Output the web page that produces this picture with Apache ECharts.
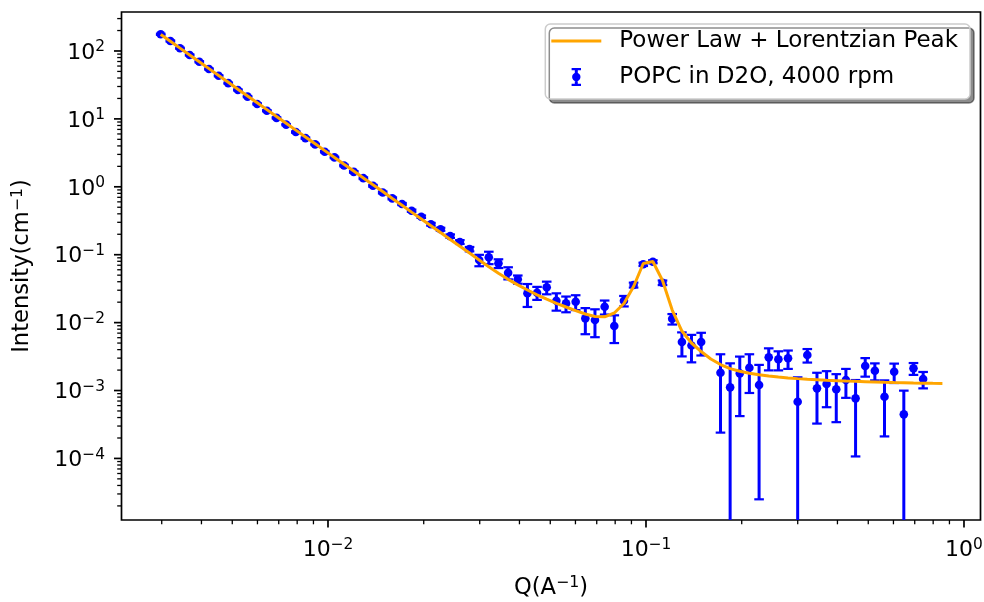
<!DOCTYPE html>
<html><head><meta charset="utf-8">
<script src="https://cdn.jsdelivr.net/npm/echarts@6/dist/echarts.min.js"></script>
<style>html,body{margin:0;padding:0;background:#fff}#chart{width:984px;height:602px}</style>
</head><body><div id="chart"></div>
<script>
// ---- data ----
const qValues = [
  0.002978, 0.003194, 0.003424, 0.003672, 0.003938, 0.004223, 0.004529, 0.004857, 0.005208, 0.005585,
  0.005989, 0.006423, 0.006888, 0.007386, 0.007921, 0.008494, 0.009110, 0.009768, 0.01048, 0.01123,
  0.01205, 0.01292, 0.01385, 0.01486, 0.01593, 0.01709, 0.01832, 0.01965, 0.02107, 0.02259,
  0.02423, 0.02598, 0.02787, 0.02988, 0.03204, 0.03436, 0.03685, 0.03952, 0.04238, 0.04544,
  0.04873, 0.05226, 0.05604, 0.06010, 0.06445, 0.06911, 0.07413, 0.07949, 0.08524, 0.09141,
  0.09804, 0.1051, 0.1127, 0.1209, 0.1297, 0.1390, 0.1491, 0.1599, 0.1715, 0.1839,
  0.1972, 0.2114, 0.2268, 0.2432, 0.2608, 0.2797, 0.2999, 0.3216, 0.3449, 0.3698,
  0.3966, 0.4253, 0.4561, 0.4891, 0.5245, 0.5624, 0.6032, 0.6468, 0.6937, 0.7439,
  0.7977, 0.8554
];
const intensity = [
  176.4, 140.3, 109.8, 87.4, 69.4, 54.3, 43.2, 33.6, 26.7, 21.3,
  16.6, 13.2, 10.35, 8.23, 6.40, 5.21, 4.21, 3.29, 2.71, 2.06,
  1.66, 1.34, 1.035, 0.825, 0.676, 0.558, 0.445, 0.363, 0.281, 0.237,
  0.188, 0.154, 0.121, 0.0836, 0.0916, 0.0746, 0.0543, 0.0434, 0.0270, 0.0276,
  0.0331, 0.0210, 0.0192, 0.0203, 0.01155, 0.0109, 0.01714, 0.0089, 0.0210, 0.0358,
  0.0722, 0.0789, 0.0387, 0.01137, 0.00518, 0.0046, 0.00518, null, 0.00183, 0.001114,
  0.00179, 0.00217, 0.001205, 0.00308, 0.00288, 0.00298, 0.000684, 0.00333, 0.001076, 0.001248,
  0.001042, 0.00143, 0.000767, 0.0023, 0.00196, 0.000811, 0.00189, 0.000446, 0.00212, 0.001476,
  null, null
];
const intensityErr = [
  3.5, 2.8, 2.2, 1.7, 1.4, 1.1, 0.86, 0.67, 0.53, 0.43,
  0.34, 0.27, 0.22, 0.18, 0.14, 0.12, 0.10, 0.08, 0.068, 0.055,
  0.046, 0.039, 0.032, 0.027, 0.023, 0.020, 0.017, 0.015, 0.013, 0.012,
  0.011, 0.010, 0.009, 0.016, 0.019, 0.011, 0.011, 0.006, 0.010, 0.006,
  0.007, 0.006, 0.005, 0.005, 0.0048, 0.0048, 0.004, 0.0039, 0.0037, 0.003,
  0.004, 0.004, 0.003, 0.002, 0.002, 0.002, 0.0019, null, 0.00159, 0.0014,
  0.00137, 0.00125, 0.00118, 0.0011, 0.0009, 0.0009, 0.00088, 0.00075, 0.00075, 0.00068,
  0.0007, 0.00065, 0.00066, 0.0007, 0.00055, 0.0006, 0.0006, 0.00055, 0.00042, 0.0004,
  null, null
];
const fitValues = [
  175.0, 138.8, 110.1, 87.4, 69.3, 54.95, 43.6, 34.6, 27.4, 21.8,
  17.26, 13.69, 10.86, 8.617, 6.835, 5.422, 4.301, 3.412, 2.706, 2.147,
  1.703, 1.351, 1.072, 0.850, 0.674, 0.535, 0.424, 0.3365, 0.2670, 0.2118,
  0.1680, 0.1333, 0.1057, 0.0838, 0.0664, 0.0534, 0.0434, 0.0360, 0.0302, 0.02567,
  0.02211, 0.01924, 0.01697, 0.01502, 0.01338, 0.01230, 0.01217, 0.01385, 0.01911, 0.0340,
  0.0742, 0.0794, 0.0417, 0.01533, 0.00752, 0.00501, 0.003753, 0.002910, 0.002415, 0.002101,
  0.001924, 0.001798, 0.001702, 0.001635, 0.001580, 0.001532, 0.001497, 0.001466, 0.001442, 0.001417,
  0.001398, 0.001379, 0.001365, 0.001352, 0.001338, 0.001324, 0.001311, 0.001302, 0.001293, 0.001285,
  0.001276, 0.001272
];
const xMajorTicks = [0.01, 0.1, 1];
const xMinorTicks = [0.003, 0.004, 0.005, 0.006, 0.007, 0.008, 0.009,
  0.02, 0.03, 0.04, 0.05, 0.06, 0.07, 0.08, 0.09,
  0.2, 0.3, 0.4, 0.5, 0.6, 0.7, 0.8, 0.9];
const yMajorTicks = [1e-4, 1e-3, 1e-2, 1e-1, 1, 10, 100];
const yMinorTicks = [2e-5, 3e-5, 4e-5, 5e-5, 6e-5, 7e-5, 8e-5, 9e-5,
  2e-4, 3e-4, 4e-4, 5e-4, 6e-4, 7e-4, 8e-4, 9e-4,
  2e-3, 3e-3, 4e-3, 5e-3, 6e-3, 7e-3, 8e-3, 9e-3,
  0.02, 0.03, 0.04, 0.05, 0.06, 0.07, 0.08, 0.09,
  0.2, 0.3, 0.4, 0.5, 0.6, 0.7, 0.8, 0.9,
  2, 3, 4, 5, 6, 7, 8, 9,
  20, 30, 40, 50, 60, 70, 80, 90,
  200, 300];
const X_MIN = 0.002242, X_MAX = 1.127;
const Y_MIN = 1.24e-5, Y_MAX = 375;
const FIT_NAME = 'Power Law + Lorentzian Peak';
const DATA_NAME = 'POPC in D2O, 4000 rpm';
const X_NAME = 'Q(A{s|\u22121})';
const Y_NAME = 'Intensity(cm{s|\u22121})';

// ---- styling ----
const FONT = 'DejaVu Sans';
const BLUE = '#0000ff', ORANGE = '#ffa500';
const FS = 22;
const FS_NAME = 22.6;
const FS_LEGEND = 23;
const richSup = {
  b: {fontFamily: FONT, fontSize: FS, lineHeight: 26, color: '#000'},
  s: {fontFamily: FONT, fontSize: 15.4, lineHeight: 13.4, verticalAlign: 'top', color: '#000'}
};
const richName = {
  s: {fontFamily: FONT, fontSize: 15.8, lineHeight: 13.4, verticalAlign: 'top', color: '#000'}
};
function powLabel(v) {
  const lg = Math.log10(v);
  const k = Math.round(lg);
  if (Math.abs(lg - k) > 1e-6) return '';
  return '{b|10}{s|' + (k < 0 ? '\u2212' + (-k) : String(k)) + '}';
}

const errData = [];
const markerData = [];
qValues.forEach((q, i) => {
  if (intensity[i] == null) return;
  errData.push([q, intensity[i], intensityErr[i]]);
  markerData.push([q, intensity[i]]);
});
const fitData = qValues.map((q, i) => [q, fitValues[i]]);

function renderErr(params, api) {
  const q = api.value(0), v = api.value(1), e = api.value(2);
  const cs = params.coordSys;
  const bottomEdge = cs.y + cs.height;
  const top = api.coord([q, v + e]);
  let yb, capLow = true;
  const low = v - e;
  if (low > 0) { yb = api.coord([q, low])[1]; } else { yb = bottomEdge; capLow = false; }
  if (yb > bottomEdge) { yb = bottomEdge; capLow = false; }
  const CAP = 4.8;
  const children = [
    {type: 'line', shape: {x1: top[0], y1: top[1], x2: top[0], y2: yb}, style: {stroke: BLUE, lineWidth: 3}},
    {type: 'line', shape: {x1: top[0] - CAP, y1: top[1], x2: top[0] + CAP, y2: top[1]}, style: {stroke: BLUE, lineWidth: 2.2}}
  ];
  if (capLow) children.push({type: 'line', shape: {x1: top[0] - CAP, y1: yb, x2: top[0] + CAP, y2: yb}, style: {stroke: BLUE, lineWidth: 2.2}});
  return {type: 'group', children};
}

function tickSeries(values, axis, len, width) {
  return {
    type: 'custom', silent: true, clip: false, z: 20,
    data: values.map(v => axis === 'x' ? [v, Y_MIN] : [X_MIN, v]),
    encode: {x: 0, y: 1},
    renderItem: (params, api) => {
      const p = api.coord([api.value(0), api.value(1)]);
      const shape = axis === 'x'
        ? {x1: p[0], y1: p[1], x2: p[0], y2: p[1] + len}
        : {x1: p[0] - len, y1: p[1], x2: p[0], y2: p[1]};
      return {type: 'line', shape, style: {stroke: '#000', lineWidth: width}};
    }
  };
}

const ERR_ICON = 'path://M0 0L0.01 0M50 18L49.99 18M23.5 0.5H26.5V17.5H23.5ZM20.3 0H29.7V2.2H20.3ZM20.3 15.8H29.7V18H20.3ZM29.2 9A4.2 4.2 0 1 1 20.8 9A4.2 4.2 0 1 1 29.2 9Z';
const LINE_ICON = 'path://M0 0L0.01 0M50 18L49.99 18M0 7.6H50V10.4H0Z';

const chart = echarts.init(document.getElementById('chart'), null, {renderer: 'canvas'});
chart.setOption({
  animation: false,
  backgroundColor: '#ffffff',
  textStyle: {fontFamily: FONT},
  grid: {left: 121.5, right: 3.5, top: 12, bottom: 82, show: true, borderColor: '#000', borderWidth: 1.7,
         backgroundColor: 'transparent', containLabel: false, outerBoundsMode: 'none'},
  legend: {
    data: [{name: FIT_NAME, icon: LINE_ICON}, {name: DATA_NAME, icon: ERR_ICON}],
    orient: 'vertical', right: 14, top: 24,
    itemWidth: 50, itemHeight: 18, itemGap: 12,
    padding: [5, 12, 10, 6],
    backgroundColor: '#ffffff', borderColor: '#cccccc', borderWidth: 1.5, borderRadius: 5,
    shadowColor: 'rgba(0,0,0,0.45)', shadowOffsetX: 4, shadowOffsetY: 4, shadowBlur: 0,
    selectedMode: false,
    textStyle: {fontFamily: FONT, fontSize: FS_LEGEND, color: '#000', lineHeight: 24, padding: [0, 0, 0, 13]}
  },
  xAxis: {
    type: 'log', logBase: 10, min: X_MIN, max: X_MAX,
    name: X_NAME, nameLocation: 'middle', nameGap: 55,
    nameTextStyle: {fontFamily: FONT, fontSize: FS_NAME, color: '#000', lineHeight: 26, rich: richName},
    axisLine: {show: false}, axisTick: {show: false}, minorTick: {show: false},
    splitLine: {show: false}, minorSplitLine: {show: false},
    axisLabel: {formatter: powLabel, margin: 17, rich: richSup, showMinLabel: false, showMaxLabel: false, color: '#000'}
  },
  yAxis: {
    type: 'log', logBase: 10, min: Y_MIN, max: Y_MAX,
    name: Y_NAME, nameLocation: 'middle', nameGap: 86, nameRotate: 90,
    nameTextStyle: {fontFamily: FONT, fontSize: FS_NAME, color: '#000', lineHeight: 26, rich: richName},
    axisLine: {show: false}, axisTick: {show: false}, minorTick: {show: false},
    splitLine: {show: false}, minorSplitLine: {show: false},
    axisLabel: {formatter: powLabel, margin: 16.5, rich: richSup, padding: [4, 0, 0, 0], showMinLabel: false, showMaxLabel: false, color: '#000'}
  },
  series: [
    {name: 'errorbars', type: 'custom', renderItem: renderErr, data: errData, encode: {x: 0, y: 1}, z: 2, silent: true, clip: false},
    {name: DATA_NAME, type: 'scatter', data: markerData, symbol: 'circle', symbolSize: 8.6, z: 3, silent: true,
     itemStyle: {color: BLUE, opacity: 1, borderWidth: 0}},
    {name: FIT_NAME, type: 'line', data: fitData, symbol: 'none', showSymbol: false, z: 4, silent: true,
     lineStyle: {color: ORANGE, width: 3}, itemStyle: {color: ORANGE}},
    tickSeries(xMajorTicks, 'x', 7.5, 1.7),
    tickSeries(xMinorTicks, 'x', 4.3, 1.3),
    tickSeries(yMajorTicks, 'y', 7.5, 1.7),
    tickSeries(yMinorTicks, 'y', 4.3, 1.3)
  ]
});
</script>
</body></html>
